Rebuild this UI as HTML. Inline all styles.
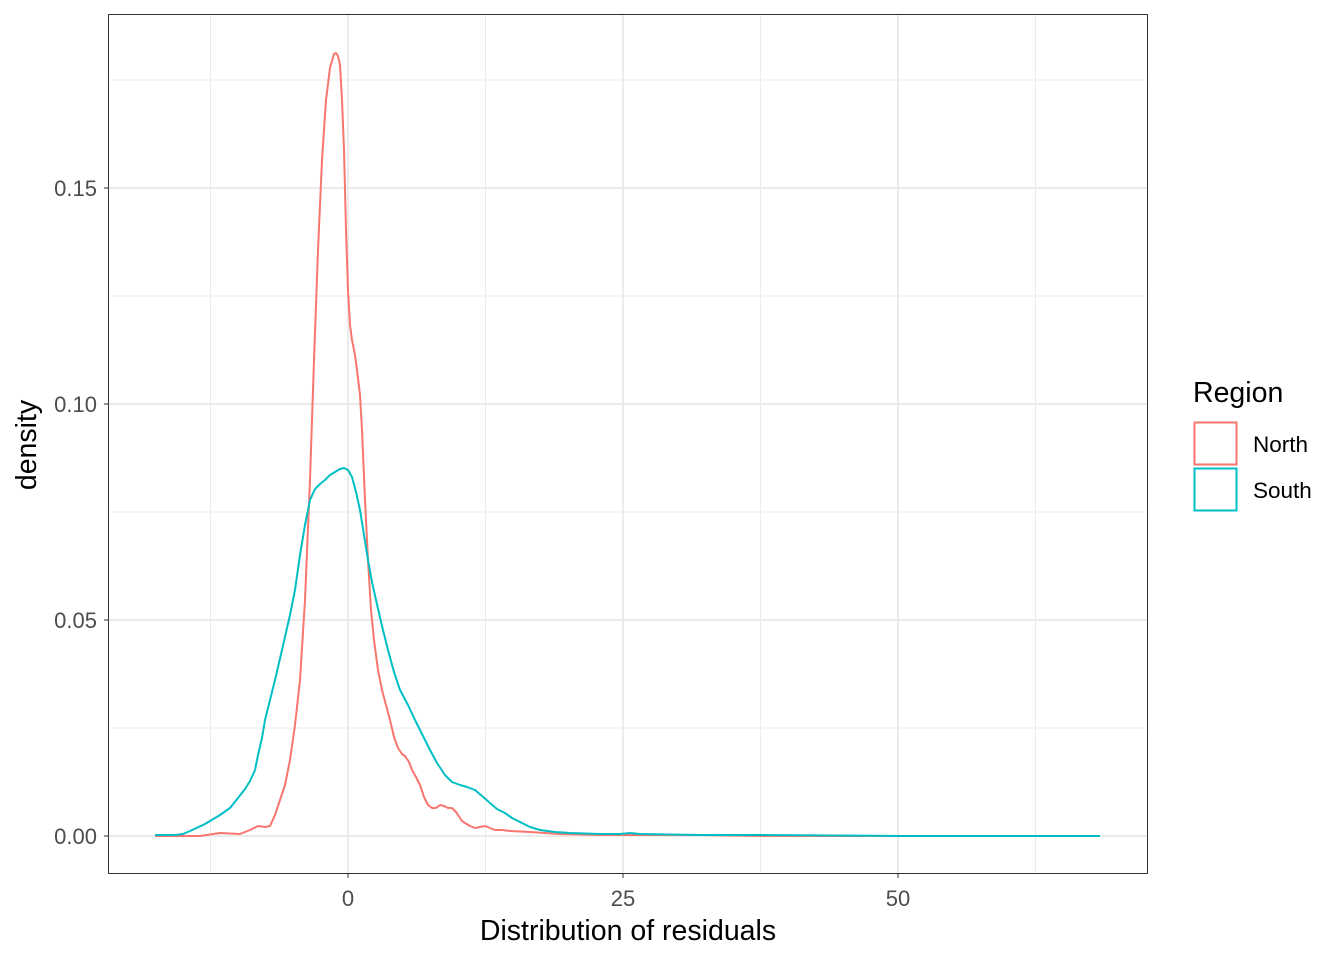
<!DOCTYPE html>
<html><head><meta charset="utf-8"><style>html,body{margin:0;padding:0;background:#fff}</style></head>
<body>
<svg width="1344" height="960" xmlns="http://www.w3.org/2000/svg" font-family="Liberation Sans, sans-serif">
<rect width="1344" height="960" fill="#fff"/>
<g stroke="#ebebeb" stroke-width="1">
<line x1="108" x2="1148" y1="728" y2="728"/><line x1="108" x2="1148" y1="512" y2="512"/><line x1="108" x2="1148" y1="296" y2="296"/><line x1="108" x2="1148" y1="80" y2="80"/>
<line y1="14" y2="874" x1="210.5" x2="210.5"/><line y1="14" y2="874" x1="485.5" x2="485.5"/><line y1="14" y2="874" x1="760.5" x2="760.5"/><line y1="14" y2="874" x1="1035.5" x2="1035.5"/>
</g>
<g stroke="#ebebeb" stroke-width="2">
<line x1="108" x2="1148" y1="836" y2="836"/><line x1="108" x2="1148" y1="620" y2="620"/><line x1="108" x2="1148" y1="404" y2="404"/><line x1="108" x2="1148" y1="188" y2="188"/>
<line y1="14" y2="874" x1="348" x2="348"/><line y1="14" y2="874" x1="623" x2="623"/><line y1="14" y2="874" x1="898" x2="898"/>
</g>
<polyline fill="none" stroke="#F8766D" stroke-width="2" stroke-linejoin="round" points="155,836 200,836 220,833 240,834 250,830 258,826 265,827 270,826 275,815 280,800 285,785 290,760 295,725 300,680 305,600 310,480 314,360 318,250 322,160 326,100 330,68 334,54 336,53 338,56 340,65 342,100 344,150 346,230 348,290 350,325 352,340 355,355 357,370 360,395 362,430 365,500 368,560 371,610 374,640 378,670 382,690 386,705 390,720 394,737 398,748 402,754 405,756 409,762 412,770 416,777 420,785 424,797 428,805 432,808 436,808 440,805 444,806 448,808 452,808 456,812 458,815 462,821 465,823 470,826 475,828 480,827 485,826 490,828 495,830 502,830 510,831 530,832 560,834 600,835 640,835 700,835 760,836 900,836 1100,836"/>
<polyline fill="none" stroke="#00BFC4" stroke-width="2" stroke-linejoin="round" points="155,835 175,835 183,834 190,831 205,824 220,815 230,808 238,798 245,789 250,781 255,770 258,755 262,738 265,720 270,700 275,680 282,650 290,615 295,590 300,555 305,525 310,500 315,489 320,484 325,480 330,475 335,472 340,469 344,468 348,470 352,477 356,492 360,510 364,535 368,560 372,582 376,600 382,626 388,650 394,672 400,690 408,705 415,720 422,734 430,750 437,763 445,775 452,782 460,785 467,787 475,790 482,796 490,803 497,809 505,813 512,818 520,822 530,827 540,830 555,832 570,833 600,834 620,834 630,833 640,834 700,835 760,835 900,836 1100,836"/>
<rect x="108.5" y="14.5" width="1039" height="859" fill="none" stroke="#333" stroke-width="1"/>
<g stroke="#333" stroke-width="1">
<line x1="104" x2="108" y1="836" y2="836"/><line x1="104" x2="108" y1="620" y2="620"/><line x1="104" x2="108" y1="404" y2="404"/><line x1="104" x2="108" y1="188" y2="188"/>
<line y1="874" y2="878" x1="348" x2="348"/><line y1="874" y2="878" x1="623" x2="623"/><line y1="874" y2="878" x1="898" x2="898"/>
</g>
<g fill="#4d4d4d" font-size="22" text-anchor="end">
<text x="97" y="844">0.00</text><text x="97" y="628">0.05</text><text x="97" y="412">0.10</text><text x="97" y="196">0.15</text>
</g>
<g fill="#4d4d4d" font-size="22" text-anchor="middle">
<text x="348" y="906">0</text><text x="623" y="906">25</text><text x="898" y="906">50</text>
</g>
<text x="628" y="940" font-size="28.5" text-anchor="middle" fill="#000">Distribution of residuals</text>
<text transform="translate(36,445) rotate(-90)" font-size="28.5" text-anchor="middle" fill="#000">density</text>
<text x="1193" y="402" font-size="28.5" fill="#000">Region</text>
<rect x="1194.5" y="422.5" width="42" height="42" fill="#fff" stroke="#F8766D" stroke-width="2"/>
<rect x="1194.5" y="468.5" width="42" height="42" fill="#fff" stroke="#00BFC4" stroke-width="2"/>
<text x="1253" y="452" font-size="22.5" fill="#000">North</text>
<text x="1253" y="498" font-size="22.5" fill="#000">South</text>
</svg>
</body></html>
